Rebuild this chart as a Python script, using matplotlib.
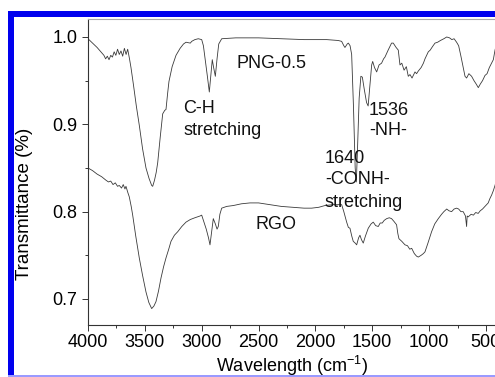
import numpy as np
import matplotlib.pyplot as plt
from matplotlib.patches import Rectangle
from matplotlib.ticker import MultipleLocator

plt.rcParams['font.family'] = ['Liberation Sans', 'DejaVu Sans']
plt.rcParams['mathtext.fontset'] = 'custom'
plt.rcParams['mathtext.rm'] = 'Liberation Sans'
plt.rcParams['mathtext.it'] = 'Liberation Sans:italic'

# PNG-0.5 spectrum (wavenumber, transmittance)
png_w = [4000, 3960, 3920, 3880, 3860, 3845, 3830, 3815, 3800, 3785, 3770, 3755,
         3740, 3725, 3710, 3695, 3680, 3665, 3651, 3635, 3622, 3600, 3575, 3549,
         3520, 3490, 3463, 3440, 3431, 3415, 3400, 3387, 3365, 3343, 3325, 3314,
         3300, 3288, 3260, 3226, 3190, 3160, 3138, 3100, 3088, 3060, 3030, 3000,
         2985, 2971, 2950, 2933, 2920, 2907, 2895, 2880, 2865, 2850, 2824, 2700,
         2500, 2300, 2100, 1900, 1800, 1769, 1750, 1740, 1720, 1710, 1695, 1681,
         1665, 1650, 1640, 1630, 1615, 1600, 1587, 1570, 1550, 1536, 1520, 1505,
         1496, 1480, 1461, 1440, 1418, 1400, 1388, 1360, 1330, 1315, 1290, 1271,
         1256, 1240, 1220, 1200, 1183, 1168, 1150, 1124, 1110, 1095, 1070, 1050,
         1036, 1007, 990, 970, 948, 925, 900, 870, 845, 820, 800, 780, 758, 740,
         720, 700, 684, 670, 650, 626, 605, 585, 567, 550, 530, 508, 490, 470,
         450, 435, 420, 400]
png_t = [0.998, 0.993, 0.988, 0.982, 0.979, 0.975, 0.978, 0.974, 0.979, 0.977, 0.983, 0.979,
         0.986, 0.980, 0.984, 0.978, 0.987, 0.980, 0.986, 0.975, 0.965, 0.945, 0.921, 0.899,
         0.872, 0.850, 0.838, 0.830, 0.829, 0.836, 0.845, 0.856, 0.885, 0.912, 0.916, 0.917,
         0.935, 0.949, 0.966, 0.979, 0.987, 0.992, 0.994, 0.993, 0.995, 0.997, 0.998, 0.997,
         0.990, 0.976, 0.955, 0.937, 0.955, 0.974, 0.965, 0.955, 0.975, 0.992, 0.998, 0.999,
         0.999, 0.998, 0.997, 0.997, 0.996, 0.995, 0.990, 0.988, 0.992, 0.993, 0.990, 0.980,
         0.920, 0.850, 0.834, 0.870, 0.930, 0.955, 0.954, 0.940, 0.925, 0.921, 0.945, 0.968,
         0.972, 0.965, 0.960, 0.968, 0.970, 0.975, 0.977, 0.985, 0.993, 0.993, 0.988, 0.985,
         0.968, 0.970, 0.962, 0.966, 0.955, 0.957, 0.953, 0.960, 0.958, 0.961, 0.965, 0.970,
         0.975, 0.983, 0.985, 0.989, 0.993, 0.994, 0.996, 0.998, 1.000, 0.999, 0.997, 0.998, 0.994, 0.990,
         0.978, 0.965, 0.955, 0.953, 0.958, 0.955, 0.950, 0.946, 0.942, 0.946, 0.950, 0.956, 0.958, 0.965,
         0.970, 0.974, 0.985, 0.995]

# RGO spectrum
rgo_w = [4000, 3960, 3920, 3880, 3842, 3820, 3800, 3780, 3760, 3740, 3725, 3705,
         3690, 3675, 3666, 3650, 3637, 3620, 3607, 3580, 3549, 3520, 3490, 3465,
         3440, 3420, 3402, 3380, 3358, 3335, 3314, 3290, 3270, 3240, 3211, 3175,
         3138, 3100, 3060, 3015, 3000, 2985, 2960, 2940, 2927, 2912, 2898, 2880,
         2865, 2854, 2840, 2824, 2780, 2722, 2650, 2575, 2500, 2400, 2300, 2200,
         2100, 2033, 1970, 1916, 1850, 1790, 1769, 1750, 1725, 1710, 1696, 1680,
         1667, 1650, 1637, 1620, 1608, 1595, 1579, 1560, 1535, 1510, 1491, 1470,
         1447, 1430, 1412, 1395, 1373, 1350, 1330, 1310, 1286, 1275, 1265, 1240,
         1212, 1190, 1170, 1153, 1130, 1110, 1095, 1070, 1050, 1036, 1010, 978,
         950, 919, 890, 870, 845, 825, 802, 780, 758, 740, 720, 700, 680, 670,
         665, 656, 630, 610, 590, 568, 550, 530, 508, 480, 465, 450, 435, 420, 400]
rgo_t = [0.850, 0.847, 0.843, 0.840, 0.836, 0.834, 0.835, 0.831, 0.833, 0.829, 0.830, 0.827,
         0.831, 0.826, 0.829, 0.822, 0.817, 0.806, 0.796, 0.772, 0.747, 0.727, 0.708, 0.696,
         0.689, 0.692, 0.697, 0.709, 0.724, 0.737, 0.747, 0.757, 0.766, 0.773, 0.777, 0.783,
         0.788, 0.791, 0.793, 0.795, 0.796, 0.790, 0.780, 0.770, 0.762, 0.778, 0.792, 0.786,
         0.780, 0.783, 0.797, 0.804, 0.806, 0.807, 0.809, 0.810, 0.810, 0.808, 0.806, 0.805,
         0.804, 0.804, 0.805, 0.807, 0.808, 0.808, 0.808, 0.800, 0.788, 0.782, 0.781, 0.772,
         0.766, 0.764, 0.762, 0.770, 0.773, 0.768, 0.764, 0.772, 0.781, 0.786, 0.788, 0.784,
         0.783, 0.787, 0.787, 0.790, 0.792, 0.793, 0.792, 0.789, 0.785, 0.775, 0.769, 0.766,
         0.762, 0.761, 0.757, 0.758, 0.752, 0.749, 0.748, 0.750, 0.752, 0.754, 0.764, 0.777,
         0.786, 0.792, 0.797, 0.800, 0.803, 0.801, 0.800, 0.803, 0.804, 0.803, 0.800, 0.800, 0.795, 0.783,
         0.795, 0.794, 0.797, 0.796, 0.799, 0.798, 0.801, 0.803, 0.806, 0.810, 0.815, 0.819, 0.824, 0.830, 0.840]

# annotations: (text, x, y) in data units, left aligned on baseline
notes = [('PNG-0.5', 2690, 0.9649),
         ('C-H', 3165, 0.9126),
         ('stretching', 3158, 0.8878),
         ('1536', 1529, 0.9107),
         ('-NH-', 1529, 0.8878),
         ('1640', 1916, 0.8554),
         ('-CONH-', 1916, 0.8317),
         ('stretching', 1916, 0.8057),
         ('RGO', 2531, 0.7798)]

W, H = 495, 377
fig = plt.figure(figsize=(W / 100, H / 100), dpi=100)

# axes run past the right edge, like the cropped original
x0, x1, y0, y1 = 88, 497.3, 325, 19
ax = fig.add_axes([x0 / W, 1 - y0 / H, (x1 - x0) / W, (y0 - y1) / H])

ax.plot(png_w, png_t, color='#3a3a3a', lw=0.6)
ax.plot(rgo_w, rgo_t, color='#3a3a3a', lw=0.6)

for txt, x, y in notes:
    ax.text(x, y, txt, fontsize=13, ha='left', va='baseline', color='#111111')

ax.set_xlim(4000, 400)
ax.set_ylim(0.6702, 1.0206)
ax.xaxis.set_major_locator(MultipleLocator(500))
ax.xaxis.set_minor_locator(MultipleLocator(250))
ax.yaxis.set_major_locator(MultipleLocator(0.1))
ax.yaxis.set_minor_locator(MultipleLocator(0.05))
ax.set_xticks(np.arange(4000, 400, -500))
ax.set_yticks([0.7, 0.8, 0.9, 1.0])
ax.set_yticklabels(['0.7', '0.8', '0.9', '1.0'])

ax.tick_params(which='major', direction='out', length=4.5, width=0.7,
               color='#333333', labelsize=13, top=False, right=False)
ax.tick_params(which='minor', direction='out', length=2.2, width=0.7,
               color='#333333', top=False, right=False)
ax.tick_params(axis='x', pad=2)
ax.tick_params(axis='y', pad=3)

ax.spines['right'].set_visible(False)
ax.spines['top'].set_color('#aaaaaa')
for s in ['left', 'bottom']:
    ax.spines[s].set_color('#333333')
    ax.spines[s].set_linewidth(0.8)
ax.spines['top'].set_linewidth(0.8)

fig.text(24.5 / W, 1 - 204 / H, 'Transmittance (%)', rotation=90,
         ha='center', va='center', fontsize=13.5)
fig.text(292 / W, 1 - 371.5 / H, r'Wavelength (cm$^{\mathrm{-1}}$)',
         ha='center', va='baseline', fontsize=13)

# blue frame on left and top, thin light line at the bottom
fig.patches.append(Rectangle((8 / W, 0), 6 / W, 1 - 11 / H, transform=fig.transFigure,
                             facecolor='#0000ee', edgecolor='none'))
fig.patches.append(Rectangle((8 / W, 1 - 17 / H), 1 - 8 / W, 6 / H, transform=fig.transFigure,
                             facecolor='#0000ee', edgecolor='none'))
fig.patches.append(Rectangle((8 / W, 1 - 376.5 / H), 1 - 8 / W, 1.2 / H, transform=fig.transFigure,
                             facecolor='#9a9aff', edgecolor='none'))

fig.savefig('out.png', dpi=100)
